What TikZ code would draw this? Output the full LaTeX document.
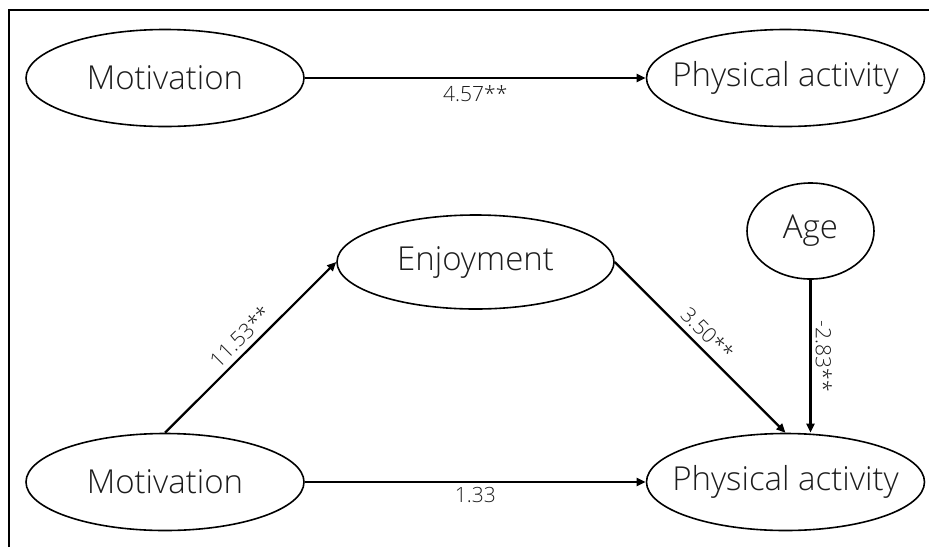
\documentclass[tikz,border=0pt]{standalone}
\usepackage{fontspec}
\setmainfont{Open Sans Light}
\usetikzlibrary{arrows.meta,shapes.geometric}
\definecolor{txt}{RGB}{28,28,28}
\begin{document}
\begin{tikzpicture}[x=1pt,y=-1pt,
  var/.style={ellipse, draw, line width=1.6pt, inner sep=0pt,
    minimum width=278pt, minimum height=97pt},
  vartext/.style={font=\fontsize{33}{38}\selectfont, text=txt, inner sep=0pt},
  conn/.style={line width=2.2pt, -{Triangle[length=9pt,width=8pt]}},
  lab/.style={font=\fontsize{21}{25}\selectfont, text=txt, inner sep=2pt}]
\useasboundingbox (0,0) rectangle (929,547);
\draw[line width=2.5pt] (9,547) -- (9,10) -- (929,10);

\node[var, label={[vartext]center:Motivation}] (m1) at (165,78) {};
\node[var, label={[vartext]center:Physical activity}] (pa1) at (785.5,78) {};
\node[var, label={[vartext]center:Motivation}] (m2) at (165,482) {};
\node[var, label={[vartext]center:Physical activity}] (pa2) at (785.5,482) {};
\node[var, minimum width=277pt, minimum height=94pt, label={[vartext]center:Enjoyment}] (enj) at (475.5,262) {};
\node[var, minimum width=127pt, minimum height=96pt, label={[vartext]center:Age}] (age) at (810.5,231) {};

\draw[conn] (m1.east) -- node[lab, below=4pt] {4.57**} (pa1.west);
\draw[conn] (m2.north) -- node[lab, sloped, above=4pt] {11.53**} (enj.west);
\draw[conn] (enj.east) -- node[lab, sloped, above=4pt, pos=0.48] {3.50**} (pa2.north);
\draw[conn] (age.south) -- node[lab, sloped, above=2pt] {-2.83**} (age.south |- pa2.north);
\draw[conn] (m2.east) -- node[lab, below=2pt] {1.33} (pa2.west);
\end{tikzpicture}
\end{document}
